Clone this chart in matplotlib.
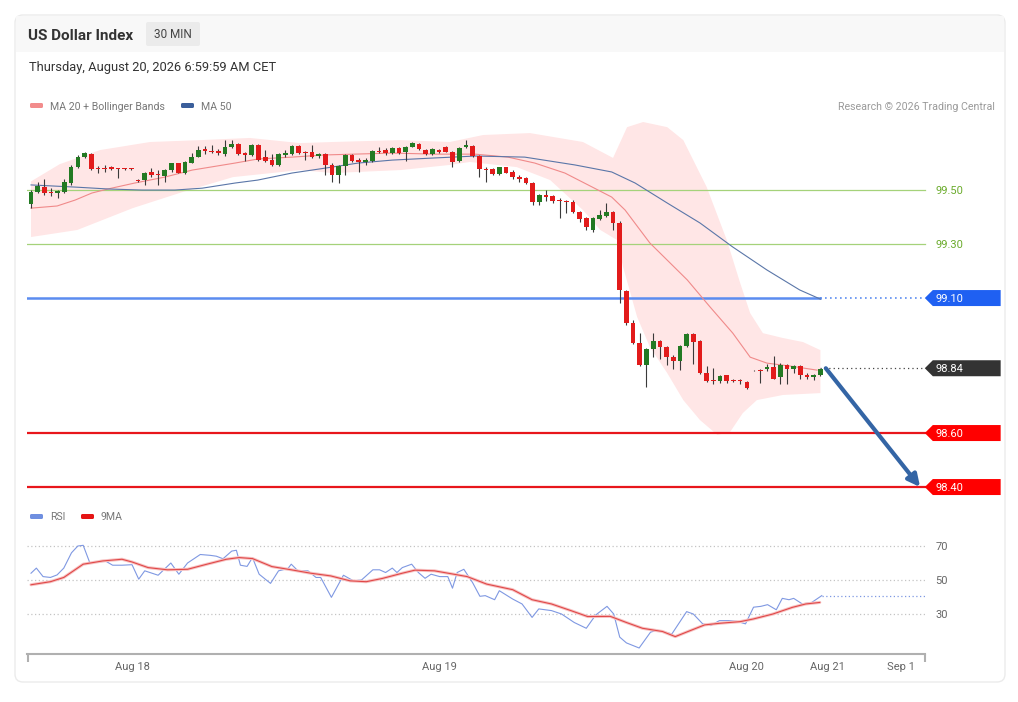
import matplotlib
matplotlib.use('Agg')
import matplotlib.pyplot as plt
import numpy as np
from matplotlib.patches import FancyBboxPatch, Rectangle, Polygon

plt.rcParams['font.family'] = ['Roboto', 'DejaVu Sans']

# ---- candles (30 min), index 0 .. 118
opens = [99.448, 99.494, 99.512, 99.493, 99.490, 99.493, 99.527, 99.584, 99.621, 99.633,
         99.581, 99.582, 99.584, 99.579, 99.579, 99.579, 99.536, 99.537, 99.567, 99.559,
         99.552, 99.574, 99.599, 99.562, 99.601, 99.623, 99.651, 99.646, 99.646, 99.633,
         99.658, 99.670, 99.636, 99.630, 99.667, 99.621, 99.611, 99.593, 99.630, 99.633,
         99.663, 99.641, 99.641, 99.626, 99.633, 99.593, 99.556, 99.589, 99.630, 99.613,
         99.604, 99.609, 99.646, 99.648, 99.636, 99.654, 99.641, 99.660, 99.670, 99.648,
         99.633, 99.648, 99.660, 99.642, 99.609, 99.658, 99.663, 99.626, 99.579, 99.577,
         99.559, 99.584, 99.568, 99.547, 99.543, 99.527, 99.457, 99.480, 99.478, 99.465,
         99.460, 99.457, 99.420, 99.395, 99.352, 99.391, 99.404, 99.420, 99.379, 99.127,
         99.009, 98.935, 98.852, 98.910, 98.942, 98.920, 98.880, 98.865, 98.922, 98.967,
         98.942, 98.823, 98.796, 98.794, 98.814, 98.798, 98.798, 98.790, 98.834, 98.835,
         98.836, 98.843, 98.806, 98.852, 98.836, 98.848, 98.815, 98.806, 98.815]
highs = [99.500, 99.531, 99.540, 99.506, 99.502, 99.540, 99.593, 99.630, 99.641, 99.636,
         99.589, 99.593, 99.589, 99.580, 99.580, 99.580, 99.540, 99.568, 99.580, 99.574,
         99.577, 99.601, 99.601, 99.607, 99.636, 99.663, 99.663, 99.667, 99.651, 99.685,
         99.685, 99.675, 99.642, 99.670, 99.670, 99.648, 99.633, 99.638, 99.648, 99.667,
         99.667, 99.646, 99.667, 99.638, 99.638, 99.599, 99.593, 99.633, 99.633, 99.617,
         99.617, 99.648, 99.658, 99.654, 99.660, 99.660, 99.663, 99.679, 99.673, 99.651,
         99.654, 99.651, 99.663, 99.646, 99.658, 99.685, 99.667, 99.630, 99.584, 99.580,
         99.586, 99.586, 99.574, 99.556, 99.547, 99.531, 99.485, 99.502, 99.481, 99.469,
         99.463, 99.463, 99.423, 99.399, 99.399, 99.426, 99.451, 99.423, 99.385, 99.130,
         99.019, 98.969, 98.914, 98.969, 98.944, 98.922, 98.889, 98.926, 98.969, 98.969,
         98.944, 98.848, 98.840, 98.815, 98.816, 98.801, 98.801, 98.793, 98.835, 98.836,
         98.856, 98.885, 98.858, 98.856, 98.852, 98.851, 98.821, 98.819, 98.839]
lows = [99.432, 99.488, 99.481, 99.478, 99.469, 99.488, 99.519, 99.580, 99.619, 99.574,
        99.562, 99.568, 99.574, 99.543, 99.576, 99.576, 99.531, 99.519, 99.549, 99.519,
        99.531, 99.568, 99.562, 99.559, 99.599, 99.621, 99.633, 99.638, 99.630, 99.626,
        99.654, 99.630, 99.609, 99.626, 99.609, 99.605, 99.590, 99.589, 99.623, 99.630,
        99.633, 99.611, 99.617, 99.617, 99.556, 99.531, 99.525, 99.556, 99.605, 99.568,
        99.593, 99.605, 99.636, 99.630, 99.633, 99.633, 99.609, 99.658, 99.648, 99.630,
        99.630, 99.638, 99.640, 99.586, 99.605, 99.654, 99.623, 99.547, 99.531, 99.556,
        99.556, 99.562, 99.540, 99.531, 99.521, 99.444, 99.444, 99.460, 99.451, 99.395,
        99.414, 99.414, 99.383, 99.352, 99.346, 99.389, 99.399, 99.352, 99.080, 99.000,
        98.930, 98.848, 98.769, 98.883, 98.873, 98.852, 98.836, 98.833, 98.917, 98.856,
        98.819, 98.790, 98.782, 98.784, 98.786, 98.790, 98.782, 98.763, 98.831, 98.784,
        98.831, 98.799, 98.781, 98.781, 98.821, 98.799, 98.799, 98.796, 98.812]
closes = [99.494, 99.515, 99.488, 99.488, 99.495, 99.531, 99.586, 99.623, 99.636, 99.577,
          99.577, 99.579, 99.579, 99.577, 99.577, 99.577, 99.534, 99.564, 99.556, 99.554,
          99.574, 99.599, 99.564, 99.605, 99.623, 99.648, 99.643, 99.641, 99.636, 99.658,
          99.670, 99.633, 99.631, 99.667, 99.611, 99.609, 99.593, 99.633, 99.638, 99.663,
          99.636, 99.638, 99.623, 99.633, 99.593, 99.556, 99.589, 99.630, 99.609, 99.604,
          99.613, 99.646, 99.641, 99.636, 99.654, 99.638, 99.660, 99.673, 99.651, 99.633,
          99.651, 99.641, 99.642, 99.605, 99.654, 99.667, 99.626, 99.577, 99.574, 99.559,
          99.584, 99.564, 99.547, 99.542, 99.525, 99.457, 99.481, 99.475, 99.460, 99.458,
          99.456, 99.420, 99.391, 99.362, 99.395, 99.407, 99.420, 99.379, 99.130, 99.009,
          98.935, 98.852, 98.910, 98.942, 98.920, 98.880, 98.865, 98.922, 98.967, 98.938,
          98.823, 98.794, 98.791, 98.811, 98.791, 98.794, 98.794, 98.765, 98.832, 98.831,
          98.843, 98.802, 98.852, 98.836, 98.848, 98.815, 98.806, 98.815, 98.836]

# ---- indicators (candle index, price)
bb_up_x = [0, 4.3, 10.3, 17.8, 25.3, 32.7, 40.2, 45.1, 55.2, 62.6, 67.6, 74.6, 82.5, 87.0,
           89.1, 91.5, 95.1, 97.5, 101, 104, 106, 107.5, 109.4, 112.4, 115.4, 118]
bb_up = [99.532, 99.596, 99.648, 99.678, 99.685, 99.693, 99.674, 99.678, 99.685, 99.678,
         99.704, 99.711, 99.678, 99.619, 99.733, 99.752, 99.733, 99.685, 99.511, 99.315,
         99.156, 99.044, 98.970, 98.952, 98.937, 98.907]
bb_lo_x = [0, 6.9, 15.2, 22.7, 30.2, 40.2, 45.1, 55.2, 62.6, 65.6, 72.6, 77.6, 82.5, 85.1,
           87.6, 88.5, 90.6, 92.5, 95.1, 97.5, 100, 102.6, 104.5, 106.4, 108.5, 112.4, 118]
bb_lo = [99.326, 99.352, 99.433, 99.493, 99.548, 99.574, 99.563, 99.574, 99.593, 99.604,
         99.585, 99.537, 99.426, 99.352, 99.315, 99.215, 99.030, 98.919, 98.822, 98.722,
         98.648, 98.593, 98.604, 98.674, 98.722, 98.741, 98.748]
ma20_x = [0, 3.9, 6.6, 9.1, 11.5, 15.5, 20, 24.1, 30.5, 33.9, 39, 43.9, 54, 60.4, 66.4,
          71.3, 75.3, 79.8, 83.9, 86.8, 88.8, 92.5, 98.1, 101.5, 104.9, 107.5, 110, 113.5, 117.5]
ma20 = [99.433, 99.441, 99.463, 99.489, 99.504, 99.526, 99.548, 99.574, 99.600, 99.615,
        99.622, 99.630, 99.637, 99.633, 99.633, 99.622, 99.600, 99.563, 99.511, 99.474,
        99.426, 99.304, 99.167, 99.067, 98.970, 98.881, 98.859, 98.848, 98.833]
ma50_x = [0, 6.6, 11.5, 16.6, 21.5, 25.6, 30.5, 33.9, 39, 43.9, 48.9, 54, 60.4, 66.4, 73.8,
          81.3, 86.8, 90.3, 95.1, 100, 104.9, 110, 114.9, 118]
ma50 = [99.519, 99.511, 99.504, 99.500, 99.500, 99.507, 99.526, 99.537, 99.563, 99.581,
        99.600, 99.611, 99.619, 99.626, 99.622, 99.593, 99.567, 99.526, 99.452, 99.378,
        99.289, 99.204, 99.130, 99.096]

# ---- RSI panel
rsi_x = [0.0, 0.8, 1.8, 2.9, 3.9, 4.9, 6.05, 7.0, 7.8, 8.8, 9.9, 11.2, 12.2, 13.6, 15.1,
         16.1, 17.0, 19.0, 20.9, 22.1, 23.4, 25.3, 26.8, 27.7, 28.7, 30.0, 30.7, 31.3, 32.3,
         33.1, 34.1, 35.8, 37.0, 38.4, 38.9, 39.9, 41.4, 42.6, 43.3, 44.9, 46.7, 48.2, 49.4,
         51.1, 52.1, 53.0, 54.0, 54.7, 55.5, 56.9, 57.9, 58.9, 59.8, 61.1, 62.3, 63.0, 63.7,
         64.7, 66.0, 67.1, 67.9, 69.3, 70.0, 72.0, 73.4, 74.9, 75.9, 77.8, 79.3, 81.2, 83.0,
         84.4, 86.1, 87.1, 88.0, 89.0, 90.9, 92.6, 93.6, 94.8, 95.8, 98.0, 99.0, 100.4, 101.6,
         102.9, 104.3, 105.5, 106.8, 108.0, 109.1, 110.1, 111.4, 112.3, 113.3, 114.0, 115.3,
         116.7, 118.2]
rsi = [54, 57, 52, 51.5, 53, 57, 66, 70, 70.4, 60, 60.6, 61, 58.7, 58.7, 59,
       50.5, 55.4, 52.8, 60, 53.4, 60, 65, 64.5, 64, 62.5, 67, 67.5, 58.7, 58,
       63.2, 53.4, 48, 55.4, 56.7, 59.3, 55.4, 55.4, 51.5, 51.5, 39.8, 52.8, 49.5, 50,
       56, 56, 54.4, 57, 54.4, 57.3, 59.3, 54.4, 51, 53.4, 52, 52, 45.2, 54.4,
       56.3, 48.5, 40.4, 40.8, 38.4, 43.7, 38.8, 35.9, 28, 33, 32, 30, 25, 21.6,
       29.4, 34.5, 30, 16.4, 13, 10, 19.3, 20.5, 19.3, 18.3, 31.4, 30, 24.2, 23.2,
       26.1, 26.1, 25.7, 24.2, 34, 34.5, 35.5, 32.5, 39.2, 38.4, 39.2, 35.9,
       36.8, 40.8]
ma9_x = [0.0, 2.9, 4.9, 7.8, 10.7, 13.6, 15.1, 17.5, 20.4, 23.4, 26.3, 29.2, 31.1, 33.1,
         36.0, 38.9, 41.8, 44.8, 47.7, 50.1, 52.5, 55.5, 57.4, 60.3, 63.2, 65.2, 68.1, 72.0,
         74.9, 77.8, 80.7, 83.2, 86.6, 89.0, 91.4, 94.4, 96.3, 98.2, 100.7, 103.1, 106.0,
         108.0, 110.9, 113.8, 115.8, 117.9]
ma9 = [47.2, 49, 51.5, 59.3, 61.2, 62.2, 60.6, 57.3, 56, 56.3, 59.3, 62.2, 63.2, 62.6,
       57.9, 56, 54, 52.4, 49.5, 49, 50.9, 54, 55.8, 55.4, 53.4, 52, 47.6, 44.3,
       38.4, 35.9, 32, 28.5, 28.6, 25, 21.6, 19.7, 16.7, 19.7, 23.6, 24.6, 25.5,
       27.1, 30, 33.9, 35.9, 36.8]

date_pos = [15.1, 61.0, 107.0, 119.0, 130.0]
date_labels = ['Aug 18', 'Aug 19', 'Aug 20', 'Aug 21', 'Sep 1']

resistance = [99.50, 99.30]
pivot = 99.10
last_price = 98.84
supports = [98.60, 98.40]
target = 98.40

X0, X1 = -0.6, 145.14      # x limits (candle index)
XEND = 133.6               # where the level lines stop
XLAST = 118

fig = plt.figure(figsize=(10.18, 7.02), dpi=100)
fig.patch.set_facecolor('white')

# ---- card / header (pixel coordinates)
bg = fig.add_axes([0, 0, 1, 1])
bg.set_xlim(0, 1018)
bg.set_ylim(702, 0)
bg.axis('off')
bg.add_patch(FancyBboxPatch((15, 15), 990, 667, boxstyle='round,pad=0,rounding_size=8',
                            fc='white', ec='#ebebeb', lw=1))
bg.add_patch(Rectangle((16, 16), 988, 36, fc='#f8f8f8', ec='none'))
bg.text(28, 35.5, 'US Dollar Index', fontsize=11, fontweight='bold', color='#333333', va='center')
bg.add_patch(FancyBboxPatch((146, 22), 54, 24, boxstyle='round,pad=0,rounding_size=2',
                            fc='#ebebeb', ec='none'))
bg.text(173, 35, '30 MIN', fontsize=8.5, color='#444444', va='center', ha='center')
bg.text(29, 67.5, 'Thursday, August 20, 2026 6:59:59 AM CET', fontsize=9.3, color='#333333', va='center')

# legends
bg.add_patch(FancyBboxPatch((30, 103), 13, 5, boxstyle='round,pad=0,rounding_size=1.5', fc='#f28c8c', ec='none'))
bg.text(50, 106.5, 'MA 20 + Bollinger Bands', fontsize=7.6, color='#777777', va='center')
bg.add_patch(FancyBboxPatch((181, 103), 13, 5, boxstyle='round,pad=0,rounding_size=1.5', fc='#3b5f9b', ec='none'))
bg.text(201, 106.5, 'MA 50', fontsize=7.6, color='#777777', va='center')
bg.text(995, 106.5, 'Research \u00a9 2026 Trading Central', fontsize=7.7, color='#9a9a9a',
        va='center', ha='right')
bg.add_patch(FancyBboxPatch((30, 514), 13, 5, boxstyle='round,pad=0,rounding_size=1.5', fc='#6f8fe0', ec='none'))
bg.text(50, 517.5, 'RSI', fontsize=7.6, color='#777777', va='center')
bg.add_patch(FancyBboxPatch((81, 514), 13, 5, boxstyle='round,pad=0,rounding_size=1.5', fc='#e51515', ec='none'))
bg.text(101, 517.5, '9MA', fontsize=7.6, color='#777777', va='center')

# ---- price panel
ax = fig.add_axes([27 / 1018, 1 - 500 / 702, 975 / 1018, 385 / 702])
ax.patch.set_alpha(0)
ax.set_xlim(X0, X1)
ax.set_ylim(98.352, 99.778)
ax.axis('off')

ax.fill(np.r_[bb_up_x, bb_lo_x[::-1]], np.r_[bb_up, bb_lo[::-1]], color='#ffe6e6', lw=0, zorder=1)
ax.plot(ma20_x, ma20, color='#f08a8a', lw=0.8, zorder=3)
ax.plot(ma50_x, ma50, color='#5a76a8', lw=0.8, zorder=3)

for lv in resistance:
    ax.plot([X0, XEND], [lv, lv], color='#a5d27a', lw=0.9, zorder=2)
    ax.text(XEND + 1.6, lv - 0.004, f'{lv:.2f}', color='#6aab2b', fontsize=8, va='center')

ax.plot([X0, XLAST], [pivot, pivot], color='#5b8cf0', lw=1.8, zorder=2)
ax.plot([XLAST, XEND], [pivot, pivot], color='#5b8cf0', lw=1.2, ls=(0, (1, 2)), zorder=2)
ax.plot([XLAST, XEND], [last_price, last_price], color='#444444', lw=0.9, ls=(0, (1, 2.5)), zorder=2)
for lv in supports:
    ax.plot([X0, XEND], [lv, lv], color='#e8161c', lw=1.6, zorder=2)


def tag(level, color):
    h = 8 / 270
    pts = [(XEND, level), (XEND + 1.2, level + h), (X1 - 0.2, level + h),
           (X1 - 0.2, level - h), (XEND + 1.2, level - h)]
    ax.add_patch(Polygon(pts, closed=True, fc=color, ec='none', zorder=5, clip_on=False))
    ax.text(XEND + 1.6, level - 0.003, f'{level:.2f}', color='white', fontsize=8, va='center', zorder=6)


tag(pivot, '#1f60f2')
tag(last_price, '#333333')
for lv in supports:
    tag(lv, '#ff0000')

# candles
idx = np.arange(len(closes))
o = np.array(opens)
c = np.array(closes)
up = c >= o
cols = np.where(up, '#237a23', '#e21b1b')
ax.vlines(idx, lows, highs, color='#3a3a3a', lw=0.8, zorder=4)
body_lo = np.minimum(o, c)
body_h = np.maximum(np.abs(c - o), 0.003)
ax.bar(idx, body_h, bottom=body_lo, width=0.7, color=cols, edgecolor='none', zorder=5)

ax.annotate('', xy=(132.9, target), xytext=(118.8, last_price),
            arrowprops=dict(arrowstyle='-|>', color='#3465a5', lw=3, mutation_scale=18,
                            shrinkA=0, shrinkB=0), zorder=7)

# ---- RSI panel
ax2 = fig.add_axes([27 / 1018, 1 - 654 / 702, 975 / 1018, 124 / 702])
ax2.patch.set_alpha(0)
ax2.set_xlim(X0, X1)
ax2.set_ylim(70 - 108 / 1.7, 70 + 16 / 1.7)
for s in ['top', 'right', 'left']:
    ax2.spines[s].set_visible(False)
ax2.spines['bottom'].set_bounds(X0, XEND)
ax2.spines['bottom'].set_color('#b0b0b0')
ax2.spines['bottom'].set_linewidth(1.5)
ax2.set_yticks([])
ax2.set_xticks(date_pos)
ax2.set_xticklabels(date_labels, fontsize=8, color='#666666')
ax2.tick_params(axis='x', which='major', length=0, pad=6)
ax2.set_xticks([X0 + 0.2, XEND], minor=True)
ax2.tick_params(axis='x', which='minor', length=6, width=1.5, color='#b0b0b0')

for g in [70, 50, 30]:
    ax2.plot([X0, XEND], [g, g], color='#c4c4c4', lw=0.9, ls=(0, (1, 2)))
    ax2.text(XEND + 1.6, g - 0.5, str(g), fontsize=8, color='#666666', va='center')

ax2.plot(rsi_x, rsi, color='#7f98e2', lw=0.8, zorder=3)
ax2.plot([rsi_x[-1], XEND], [rsi[-1], rsi[-1]], color='#7f98e2', lw=0.9, ls=(0, (1, 2)))
ax2.plot(ma9_x, ma9, color='#f7c2c2', lw=2.2, zorder=3, solid_capstyle='round')
ax2.plot(ma9_x, ma9, color='#e04848', lw=0.8, zorder=4)

fig.savefig('out.png', dpi=100, facecolor='white')
